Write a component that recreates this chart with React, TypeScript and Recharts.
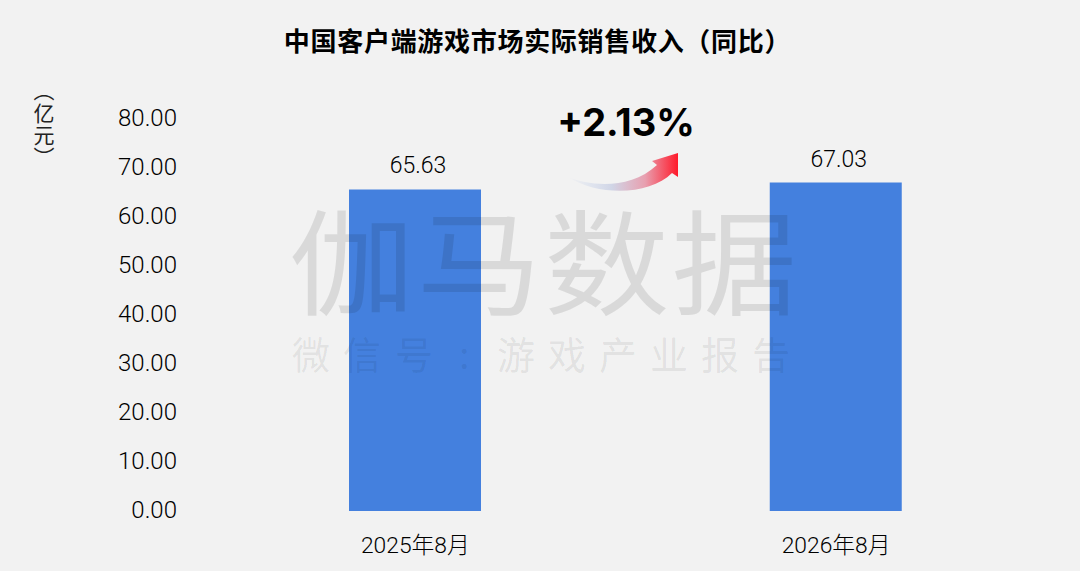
import React from 'react';
import { BarChart, Bar, XAxis, YAxis, LabelList } from 'recharts';

const periods = ['2025年8月', '2026年8月'];
const revenue = [65.63, 67.03];
const yTicks = [0, 10, 20, 30, 40, 50, 60, 70, 80];

const chartData = periods.map((period, i) => ({ period, revenue: revenue[i] }));

const FONT = 'Roboto, "Noto Sans CJK SC", sans-serif';
const CJK = '"Noto Sans CJK SC", sans-serif';

const YTick: React.FC<any> = ({ x, y, payload }) => (
  <text x={x} y={y} dy={-1.5} fill="#000" fontSize={24} fontWeight={300} fontFamily={FONT} textAnchor="end" dominantBaseline="central">
    {payload.value.toFixed(2)}
  </text>
);

const XTick: React.FC<any> = ({ x, y, payload }) => (
  <text x={x} y={y} dy={34} fill="#000" fontSize={22.8} fontWeight={300} fontFamily={FONT} textAnchor="middle">
    {payload.value}
  </text>
);

const ValueLabel: React.FC<any> = ({ x, y, width, value }) => (
  <text x={x + width / 2 + 3} y={y} dy={-16} fill="#000" fontSize={23} fontWeight={300} fontFamily={FONT} textAnchor="middle">
    {value.toFixed(2)}
  </text>
);

const Overlay = () => (
  <svg width={1080} height={571} style={{ position: 'absolute', left: 0, top: 0, pointerEvents: 'none' }}>
    <defs>
      <linearGradient id="arrowFill" x1="0" y1="0" x2="1" y2="0">
        <stop offset="0%" stopColor="#d5dcec" stopOpacity={0} />
        <stop offset="20%" stopColor="#d5dcec" stopOpacity={0.6} />
        <stop offset="40%" stopColor="#d0d5e6" />
        <stop offset="70%" stopColor="#e8a0b0" />
        <stop offset="100%" stopColor="#ff1a2b" />
      </linearGradient>
    </defs>
    <text x={537.5} y={51} fontSize={26} fontWeight={700} fill="#000" fontFamily={CJK} textAnchor="middle" letterSpacing={0.7}>
      中国客户端游戏市场实际销售收入（同比）
    </text>
    <text x={626} y={136} fontSize={38} fontWeight={700} fill="#000" fontFamily="Inter, sans-serif" textAnchor="middle">
      +2.13%
    </text>
    <path
      d="M568 177 C590 186 630 190 657 165 L652 161 L678 153 L678 177 L672 173 C650 195 600 197 568 177 Z"
      fill="url(#arrowFill)"
    />
    <g fill="#222" fontFamily={CJK} fontSize={21}>
      <text x={44} y={80} style={{ writingMode: 'vertical-rl' }}>（</text>
      <text x={44} y={121} textAnchor="middle">亿</text>
      <text x={44} y={143} textAnchor="middle">元</text>
      <text x={44} y={147} style={{ writingMode: 'vertical-rl' }}>）</text>
    </g>
    <text
      transform="translate(544 0) scale(1.1 1) translate(-544 0)"
      x={544}
      y={306}
      fontSize={114}
      fill="#000"
      fillOpacity={0.1}
      fontFamily={CJK}
      textAnchor="middle"
      letterSpacing={2}
    >
      伽马数据
    </text>
    <text
      x="292 343 395 459 497 548 599 650 701 752"
      y={369}
      fontSize={38}
      fill="#000"
      fillOpacity={0.08}
      fontFamily={CJK}
    >
      微信号:游戏产业报告
    </text>
  </svg>
);

export default function App() {
  return (
    <div style={{ position: 'absolute', left: 0, top: 0, width: 1080, height: 571, background: '#f2f2f2', overflow: 'hidden' }}>
      <BarChart
        width={1080}
        height={571}
        data={chartData}
        margin={{ top: 119, right: 33.5, bottom: 30, left: 0 }}
      >
        <XAxis dataKey="period" axisLine={false} tickLine={false} tick={<XTick />} />
        <YAxis
          domain={[0, 80]}
          ticks={yTicks}
          width={205}
          axisLine={false}
          tickLine={false}
          tick={<YTick />}
          tickMargin={22}
          interval={0}
        />
        <Bar dataKey="revenue" fill="#4480de" barSize={132} isAnimationActive={false}>
          <LabelList dataKey="revenue" content={<ValueLabel />} />
        </Bar>
      </BarChart>
      <Overlay />
    </div>
  );
}
